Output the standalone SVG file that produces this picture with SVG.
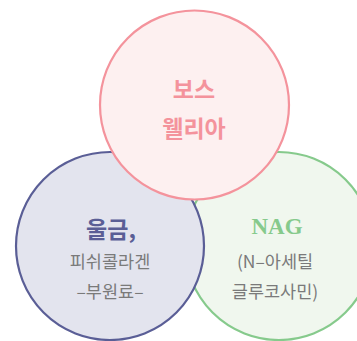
<svg xmlns="http://www.w3.org/2000/svg" width="357" height="341" viewBox="0 0 357 341">
<style>
.c{stroke-width:2.2}
.t{font-family:"Noto Sans CJK KR","Noto Sans",sans-serif;text-anchor:middle}
.h{font-weight:bold;font-size:23px}
.s{font-size:17.5px;fill:#7a7a7a}
</style>
<rect width="357" height="341" fill="#ffffff"/>
<g id="nag">
<circle class="c" cx="279" cy="246" r="94" fill="#F0F7EE" stroke="#86CA8C"/>
<text class="h" x="277" y="234" fill="#86CA8C" style="font-family:'Liberation Serif',serif;text-anchor:middle">NAG</text>
<text class="t s" x="275" y="268">(N–아세틸</text>
<text class="t s" x="275" y="298">글루코사민)</text>
</g>
<g id="turmeric">
<circle class="c" cx="110" cy="246" r="94" fill="#E3E4EE" stroke="#5A5E96"/>
<text class="t h" x="111" y="238" fill="#5A5E96">울금,</text>
<text class="t s" x="110" y="268">피쉬콜라겐</text>
<text class="t s" x="110" y="298">–부원료–</text>
</g>
<g id="boswellia">
<circle class="c" cx="194.5" cy="105" r="94.5" fill="#FDF0F0" stroke="#F4939C"/>
<text class="t h" x="194" y="98" fill="#F4939C">보스</text>
<text class="t h" x="194" y="137" fill="#F4939C">웰리아</text>
</g>
<g id="connectors"></g>
</svg>
